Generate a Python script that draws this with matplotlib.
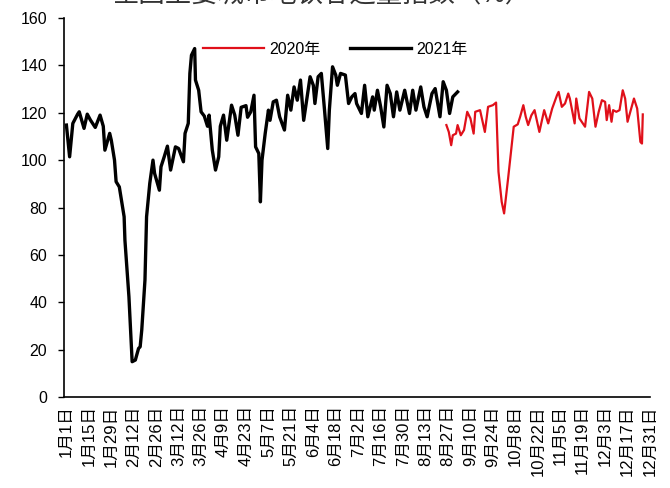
import numpy as np
import matplotlib
matplotlib.use("Agg")
import matplotlib.pyplot as plt

plt.rcParams['font.family'] = ['Liberation Sans', 'Noto Sans CJK SC']
plt.rcParams['axes.unicode_minus'] = False

title = "全国主要城市地铁客运量指数（%）"

# day of year (Jan 1 = 0) and index values
days_2021 = [0, 2, 4, 7, 8, 11, 13, 15, 18, 21, 23, 24, 27, 28, 30, 31, 33, 36, 36.5,
             39, 41, 43, 45, 46, 47, 49, 50, 52, 54, 55, 58, 59, 61, 63, 65, 68, 70, 73,
             74, 76, 77, 78, 80, 80.5, 82.5, 84, 86, 88, 89, 91, 93, 95, 96, 98, 100, 103,
             105, 107, 109, 112, 113, 115, 117, 118, 120, 121, 122, 124, 126, 127, 129,
             131, 133, 136, 138, 140, 142, 144, 146, 148, 152, 154, 155, 157, 159, 161,
             163, 164, 166, 168, 169, 171, 174, 176, 178, 180, 181, 184, 186, 188, 191,
             192, 194, 196, 198, 200, 202, 204, 206, 208, 211, 214, 216, 218, 221, 223,
             225, 228, 230, 233, 235, 237, 239, 241, 244]
vals_2021 = [114.8, 101.4, 115.5, 119.4, 120.4, 113.4, 119.4, 116.9, 113.8, 119.0, 114.3,
             104.2, 111.3, 108.4, 100.0, 90.9, 88.7, 76.1, 66.2, 42.3, 14.9, 15.6, 20.5,
             21.2, 28.3, 49.4, 76.1, 90.2, 100.0, 94.4, 87.3, 97.2, 101.4, 105.9, 95.8,
             105.6, 104.9, 99.3, 111.3, 115.5, 136.6, 144.3, 147.1, 133.8, 129.5, 120.4,
             118.6, 114.3, 119.0, 104.2, 95.8, 101.4, 114.3, 119.0, 108.4, 123.2, 119.0,
             110.5, 122.3, 123.0, 118.1, 120.4, 127.4, 105.6, 102.8, 82.4, 100.0, 111.3,
             121.1, 116.8, 124.6, 125.3, 118.3, 112.7, 127.4, 121.1, 130.9, 125.3, 133.8,
             116.8, 135.2, 131.6, 123.9, 135.2, 136.6, 121.1, 104.9, 121.1, 139.4, 135.9,
             131.6, 136.6, 135.9, 123.9, 126.7, 128.1, 123.9, 119.7, 131.6, 118.3, 126.7,
             121.1, 129.5, 122.5, 114.0, 131.6, 128.1, 118.3, 128.8, 121.1, 129.5, 119.7,
             129.5, 121.1, 130.9, 122.5, 118.3, 128.1, 130.2, 118.3, 133.1, 129.5, 119.7,
             126.7, 128.8]

days_2020 = [237, 238.5, 240, 241, 243, 244, 246, 248, 250, 252, 254, 255, 258, 261, 263,
             266, 268, 269.5, 271.5, 273, 275.5, 279, 281.5, 283, 285, 286.5, 288, 290, 292,
             295, 298, 300.5, 303, 306, 307, 309, 311, 313, 314, 317, 318, 320, 323.5, 326,
             328, 330, 332, 334, 336, 337, 338.5, 340, 341, 343, 345, 347, 348.5, 350, 352,
             354, 356, 358, 359, 359.5]
vals_2020 = [114.8, 111.9, 106.3, 110.5, 111.2, 114.8, 110.5, 112.7, 120.4, 117.6, 111.2,
             120.4, 121.1, 111.9, 122.5, 123.2, 124.3, 95.1, 82.4, 77.5, 92.3, 114.1, 115.1,
             118.3, 123.2, 118.3, 114.8, 118.9, 121.1, 111.9, 121.1, 115.5, 121.8, 127.4,
             128.8, 122.5, 123.9, 128.1, 126.0, 115.5, 126.0, 117.6, 114.1, 128.8, 126.0,
             114.1, 120.4, 125.3, 124.6, 116.9, 123.2, 116.2, 121.1, 120.4, 121.1, 129.5,
             126.0, 116.2, 121.1, 126.0, 121.8, 107.7, 107.0, 119.3]

tick_days = list(range(0, 365, 14))
tick_labels = ["1月1日", "1月15日", "1月29日", "2月12日", "2月26日", "3月12日", "3月26日",
               "4月9日", "4月23日", "5月7日", "5月21日", "6月4日", "6月18日", "7月2日",
               "7月16日", "7月30日", "8月13日", "8月27日", "9月10日", "9月24日", "10月8日",
               "10月22日", "11月5日", "11月19日", "12月3日", "12月17日", "12月31日"]

fig = plt.figure(figsize=(6.7, 4.88), dpi=100)
ax = fig.add_axes([64 / 670, 1 - 397 / 488, (650 - 64) / 670, (397 - 18) / 488])

ax.plot(days_2020, vals_2020, color='#e0101a', lw=1.6, label='2020年')
ax.plot(days_2021, vals_2021, color='black', lw=2.4, label='2021年')

ax.set_xlim(-1.5, 363.5)
ax.set_ylim(0, 160)
ax.set_yticks(range(0, 161, 20))
ax.set_xticks(tick_days)
ax.set_xticklabels(tick_labels, rotation=90)
ax.tick_params(axis='x', length=0, pad=6, labelsize=12)
ax.tick_params(axis='y', direction='out', length=4, width=1, labelsize=11.5, pad=8)
for s in ['top', 'right']:
    ax.spines[s].set_visible(False)
ax.spines['left'].set_linewidth(1.2)
ax.spines['bottom'].set_linewidth(1.2)

ax.legend(loc='upper center', bbox_to_anchor=(0.463, 0.975), ncol=2, frameon=False,
          fontsize=11.5, handlelength=3.8, columnspacing=1.9, handletextpad=0.3)

fig.text(0.48, 1 - 7 / 488, title, ha='center', va='bottom', fontsize=19, color='#333333')

fig.savefig('out.png', dpi=100)
